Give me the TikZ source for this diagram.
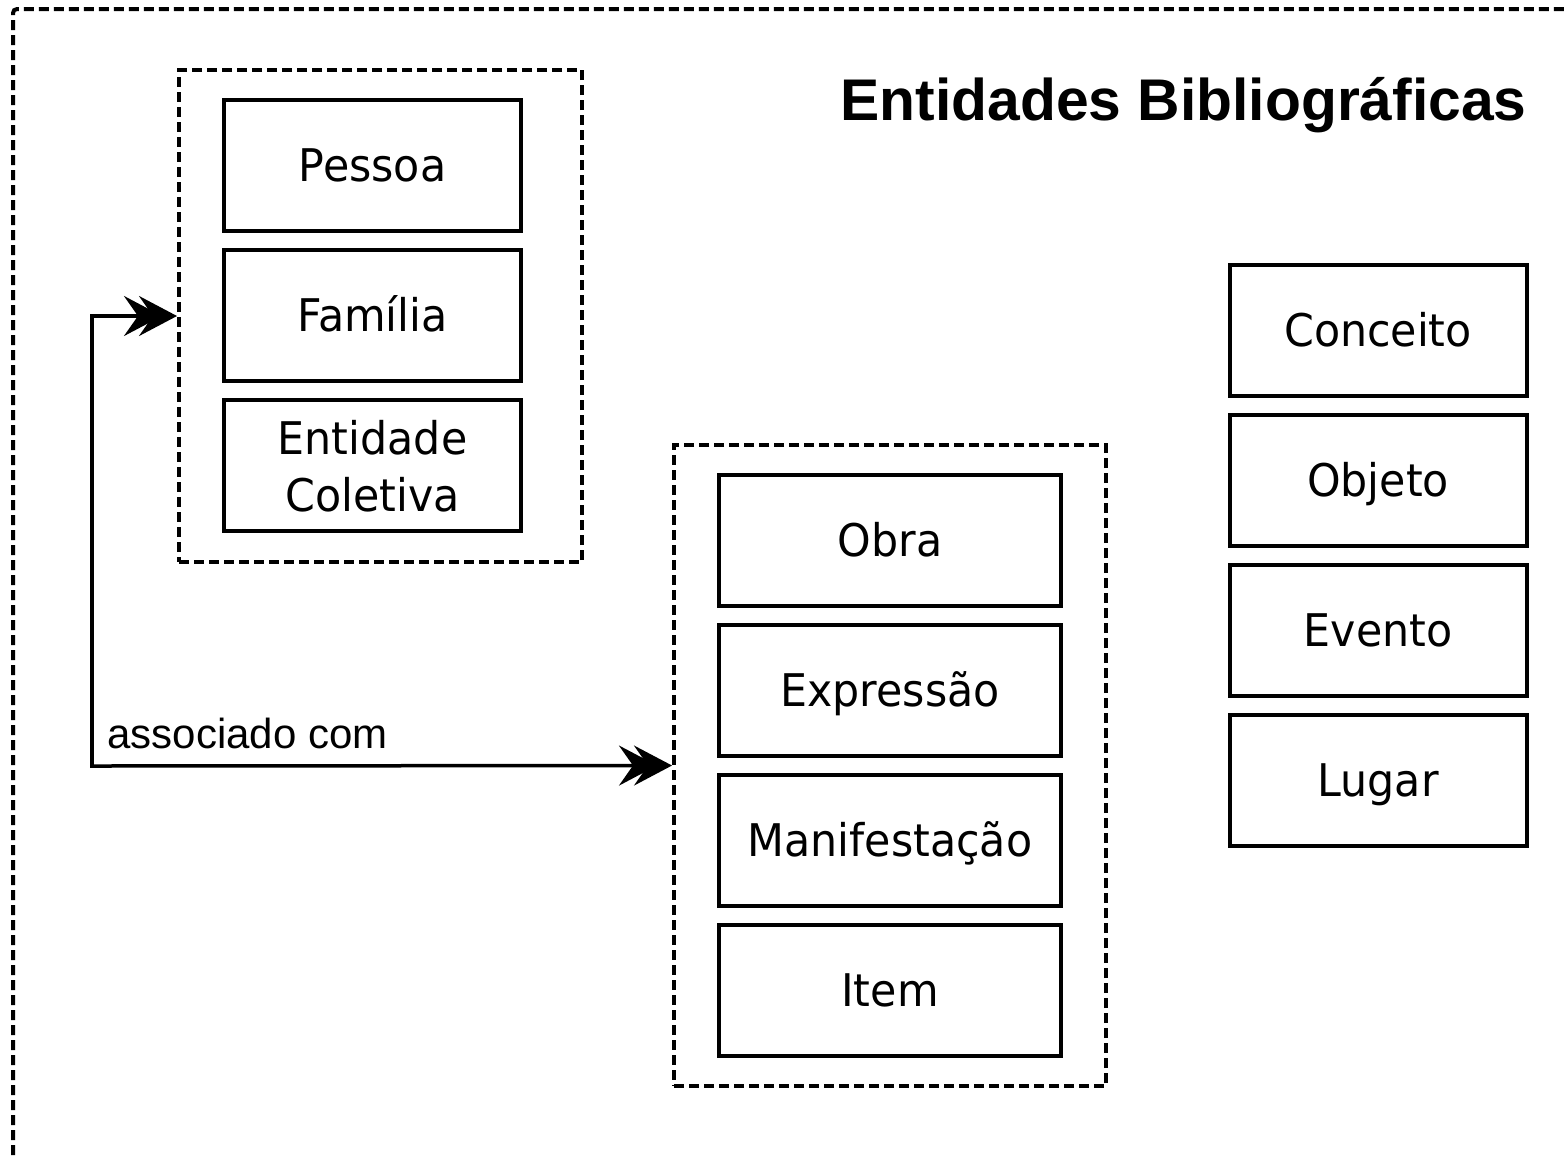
\documentclass[tikz,border=0pt]{standalone}
\usepackage{fontspec}
\setmainfont{Liberation Sans}
\newfontfamily\boxfont[FakeStretch=0.95]{DejaVu Sans}
\usetikzlibrary{arrows.meta}
\tikzset{
  x=0.5pt, y=-0.5pt,
  ebox/.style={draw, line width=2pt, inner sep=0pt, font=\boxfont\fontsize{22.5pt}{28.5pt}\selectfont,
    text height=16.4pt, text depth=0pt, align=center},
  lbox/.style={ebox, minimum width=148.5pt, minimum height=65.5pt},
  mbox/.style={ebox, minimum width=171pt, minimum height=65.5pt},
  grp/.style={draw, line width=2pt, dash pattern=on 5pt off 2.5pt, inner sep=0pt},
  frame/.style={line width=2pt, dash pattern=on 5pt off 2.5pt, rounded corners=2pt},
  dbl/.style={line width=1.75pt, line cap=rect,
    -{Stealth[length=19pt,width=20pt,inset=7pt,sep=-11.5pt]Stealth[length=19pt,width=20pt,inset=7pt]}},
}
\begin{document}
\begin{tikzpicture}
\useasboundingbox (0,0) rectangle (1568,1158);
\clip (0,0) rectangle (1568,1158);
\coordinate (fa) at (13,1200);
\coordinate (fb) at (13,9);
\coordinate (fc) at (1600,9);
\draw[frame] (fa) -- (fb) -- (fc);

\node[anchor=base east, inner sep=0pt, font=\bfseries\fontsize{29.4pt}{34pt}\selectfont] (title) at (1527,120) {Entidades Bibliográficas};

\node[grp, minimum width=201.5pt, minimum height=246pt] (g1) at (380.5,316) {};
\node[lbox] (pessoa) at (372.5,165.5) {Pessoa};
\node[lbox] (familia) at (372.5,315.5) {Família};
\node[lbox, text height=] (coletiva) at (372.5,465.5) {Entidade\\Coletiva};

\node[grp, minimum width=216pt, minimum height=320.5pt] (g2) at (890,765.5) {};
\node[mbox] (obra) at (890,540.5) {Obra};
\node[mbox] (expr) at (890,690.5) {Expressão};
\node[mbox] (manif) at (890,840.5) {Manifestação};
\node[mbox] (item) at (890,990.5) {Item};

\node[lbox] (conceito) at (1378,330.5) {Conceito};
\node[lbox] (objeto) at (1378,480.5) {Objeto};
\node[lbox] (evento) at (1378,630.5) {Evento};
\node[lbox] (lugar) at (1378,780.5) {Lugar};

\coordinate (corner) at (92,766);
\draw[dbl] (corner) |- (g1.west);
\draw[dbl] (corner) -- (g2.west);
\node[anchor=base west, inner sep=0pt, font=\fontsize{21pt}{25pt}\selectfont] (assoc) at (107,748) {associado com};
\end{tikzpicture}
\end{document}
